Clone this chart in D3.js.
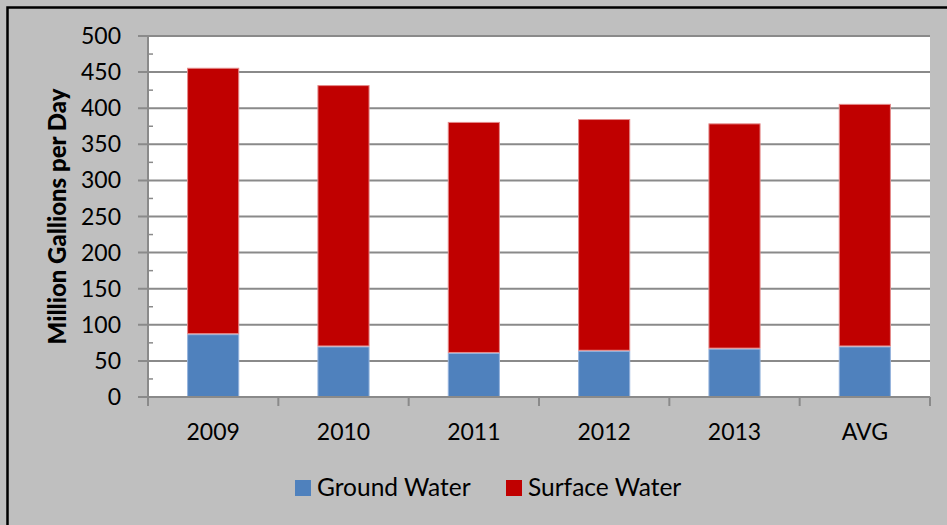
<!DOCTYPE html>
<html><head><meta charset="utf-8">
<script src="https://cdn.jsdelivr.net/npm/d3@7"></script>
<style>html,body{margin:0;padding:0;background:#BFBFBF;overflow:hidden}svg{display:block}</style>
</head><body>
<svg id="c" width="947" height="525"></svg>
<script>
const categories = ["2009","2010","2011","2012","2013","AVG"];
const groundWater = [87, 70, 61, 64, 67, 70];
const surfaceWater = [369, 362, 320, 321, 312, 336];
const seriesNames = ["Ground Water","Surface Water"];
const yTicks = [0,50,100,150,200,250,300,350,400,450,500];
const yMinorTicks = [25,75,125,175,225,275,325,375,425,475];

const colors = {"Ground Water":"#4F81BD","Surface Water":"#C00000"};
const edge = {"Ground Water":"#95b3dc","Surface Water":"#e48a8a"};
const font = "Lato, 'Open Sans', sans-serif";

const svg = d3.select("#c");
const L = 148, R = 930, T = 36, B = 397;
const x = d3.scaleBand().domain(categories).range([L, R]).paddingInner(0.6).paddingOuter(0.3);
const xb = d3.scaleBand().domain(categories).range([L, R]).padding(0);
const y = d3.scaleLinear().domain([0, 500]).range([B, T]);

// outer frame (partially visible)
svg.append("rect").attr("x",0).attr("y",0).attr("width",947).attr("height",525).attr("fill","#BFBFBF");
svg.append("path").attr("d","M7.5,525 V7.5 H947").attr("fill","none").attr("stroke","#000").attr("stroke-width",2.5);

// plot area
svg.append("rect").attr("x",L).attr("y",T).attr("width",R-L).attr("height",B-T).attr("fill","#fff");

// gridlines + major ticks
svg.append("g").selectAll("line").data(yTicks.filter(d=>d>0)).join("line")
  .attr("x1",L-10).attr("x2",R).attr("y1",d=>y(d)).attr("y2",d=>y(d))
  .attr("stroke","#8a8a8a").attr("stroke-width",2);
// minor ticks
svg.append("g").selectAll("line").data(yMinorTicks).join("line")
  .attr("x1",L).attr("x2",L+5).attr("y1",d=>y(d)).attr("y2",d=>y(d))
  .attr("stroke","#8a8a8a").attr("stroke-width",1.5);

// stacked data
const rows = categories.map((c,i)=>({cat:c,"Ground Water":groundWater[i],"Surface Water":surfaceWater[i]}));
const stack = d3.stack().keys(seriesNames)(rows);
svg.append("g").selectAll("g").data(stack).join("g")
  .attr("fill",d=>colors[d.key]).attr("stroke",d=>edge[d.key]).attr("stroke-width",1)
  .selectAll("rect").data(d=>d).join("rect")
  .attr("x",d=>x(d.data.cat)+0.5).attr("width",x.bandwidth()-1)
  .attr("y",d=>y(d[1])+0.5).attr("height",d=>y(d[0])-y(d[1])-1);

// y axis line
svg.append("line").attr("x1",L).attr("x2",L).attr("y1",T).attr("y2",B+1)
  .attr("stroke","#8a8a8a").attr("stroke-width",2);
// zero line + tick
svg.append("line").attr("x1",L-10).attr("x2",R).attr("y1",B).attr("y2",B)
  .attr("stroke","#8a8a8a").attr("stroke-width",2);
// x category boundary ticks
const bounds = categories.map(c=>xb(c)).concat([R]);
svg.append("g").selectAll("line").data(bounds).join("line")
  .attr("x1",d=>d).attr("x2",d=>d).attr("y1",B).attr("y2",B+9)
  .attr("stroke","#8a8a8a").attr("stroke-width",2);

// y tick labels
svg.append("g").selectAll("text").data(yTicks).join("text")
  .attr("x",121).attr("y",d=>y(d)+8).attr("text-anchor","end")
  .attr("font-family",font).attr("font-size",23).attr("fill","#000").text(d=>d);

// x labels
svg.append("g").selectAll("text").data(categories).join("text")
  .attr("x",d=>xb(d)+xb.bandwidth()/2).attr("y",440).attr("text-anchor","middle")
  .attr("font-family",font).attr("font-size",23).attr("fill","#000").text(d=>d);

// y title
svg.append("text").attr("transform",`translate(66,${(T+B)/2}) rotate(-90)`)
  .attr("text-anchor","middle").attr("font-family",font).attr("font-weight","900")
  .attr("font-size",24).attr("fill","#000").text("Million Gallions per Day");

// legend
const legX = [295, 506];
const lg = svg.append("g").selectAll("g").data(seriesNames).join("g")
  .attr("transform",(d,i)=>`translate(${legX[i]},480)`);
lg.append("rect").attr("width",16).attr("height",16).attr("fill",d=>colors[d]);
lg.append("text").attr("x",22).attr("y",16).attr("font-family",font).attr("font-size",24.5)
  .attr("fill","#000").text(d=>d);
</script>
</body></html>
